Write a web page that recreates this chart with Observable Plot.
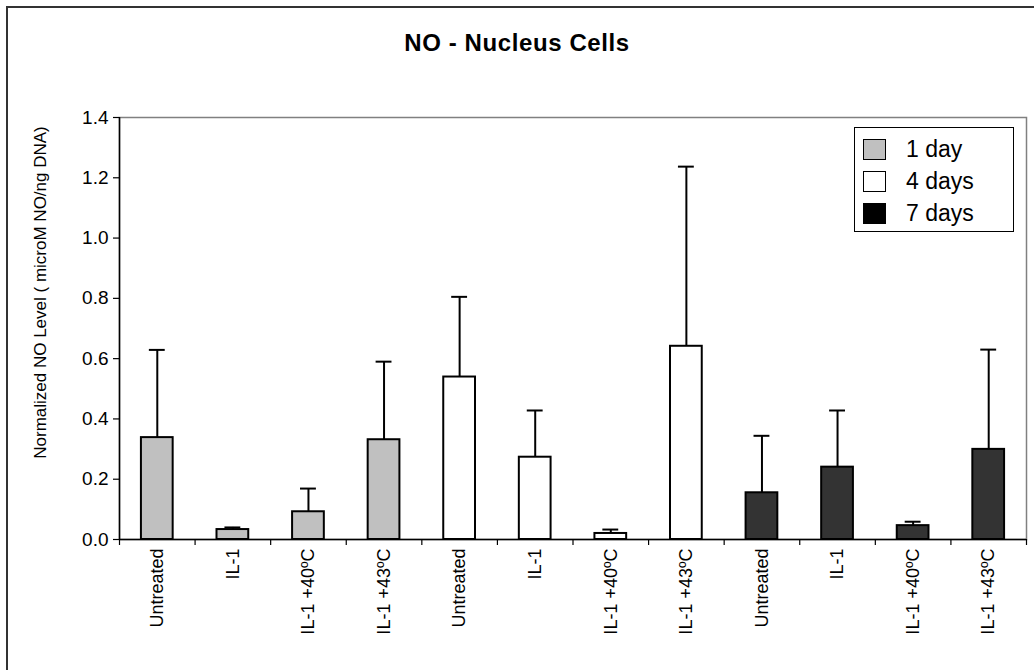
<!DOCTYPE html>
<html>
<head>
<meta charset="utf-8">
<script src="https://cdn.jsdelivr.net/npm/d3@7"></script>
<script src="https://cdn.jsdelivr.net/npm/@observablehq/plot@0.6"></script>
<style>
  html, body { margin: 0; padding: 0; background: #fff; }
  body { font-family: "Liberation Sans", Arial, sans-serif; }
  #wrap { position: relative; width: 1034px; height: 670px; overflow: hidden; background: #fff; }
  #outer { position: absolute; left: 6px; top: 6px; width: 1100px; height: 1000px; border: 2px solid #333; pointer-events: none; }
  #title { height: 86px; display: flex; align-items: center; justify-content: center; font-weight: bold; font-size: 24px; letter-spacing: 0.6px; color: #000; }
  #legend { position: absolute; left: 854px; top: 127px; width: 158px; height: 103px; border: 1.5px solid #000; background: #fff; }
  .row { position: absolute; left: 8px; height: 24px; display: flex; align-items: center; font-size: 23px; color: #000; }
  .sw { width: 23px; height: 21px; border: 1.5px solid #000; margin-right: 20px; box-sizing: border-box; }
  #chart svg { display: block; }
</style>
</head>
<body>
<div id="wrap">
  <div id="title">NO - Nucleus Cells</div>
  <div id="chart"></div>
  <div id="legend"></div>
  <div id="outer"></div>
</div>
<script>
// ---- data ----
const conditions = ["Untreated", "IL-1", "IL-1 +40ºC", "IL-1 +43ºC"];
const groups = ["1 day", "4 days", "7 days"];
const groupColors = ["#c0c0c0", "#ffffff", "#333333"];
const legendColors = ["#c0c0c0", "#ffffff", "#000000"];
const day1Mean = [0.338, 0.033, 0.092, 0.331];
const day1Err  = [0.291, 0.007, 0.077, 0.259];
const day4Mean = [0.539, 0.273, 0.020, 0.641];
const day4Err  = [0.266, 0.155, 0.013, 0.596];
const day7Mean = [0.155, 0.240, 0.046, 0.299];
const day7Err  = [0.189, 0.188, 0.013, 0.331];
const yTicks = [0, 0.2, 0.4, 0.6, 0.8, 1.0, 1.2, 1.4];
const yLabel = "Normalized NO Level ( microM NO/ng DNA)";

const means = [day1Mean, day4Mean, day7Mean];
const errs = [day1Err, day4Err, day7Err];
const rows = groups.flatMap((g, gi) => conditions.map((c, ci) => ({
  group: g, condition: c, pos: gi * conditions.length + ci,
  value: means[gi][ci], err: errs[gi][ci]
})));

const half = 0.21;   // half bar width (category units)
const cap = 0.105;   // half error cap width

const chart = Plot.plot({
  width: 1034,
  height: 584,
  marginTop: 31,
  marginBottom: 131,
  marginLeft: 119,
  marginRight: 8,
  style: {fontFamily: "'Liberation Sans', Arial, sans-serif", fontSize: "18px", color: "#000", background: "transparent", overflow: "visible"},
  x: {domain: [0, rows.length], axis: null},
  y: {domain: [0, 1.4], axis: null},
  color: {domain: groups, range: groupColors},
  marks: [
    Plot.frame({stroke: "#808080", strokeWidth: 1.5}),
    Plot.axisY({ticks: yTicks, tickFormat: d3.format(".1f"), tickSize: 6, tickPadding: 5, label: null, fontSize: 19, stroke: "#000", strokeWidth: 1.2}),
    Plot.axisX({ticks: d3.range(rows.length + 1), tickSize: 6, tickFormat: () => "", label: null, stroke: "#000", strokeWidth: 1.2}),
    Plot.axisX({ticks: rows.map(d => d.pos + 0.5), tickFormat: v => rows[Math.floor(v)].condition, tickSize: 0, tickRotate: -90, tickPadding: 9, label: null, fontSize: 18, letterSpacing: 0.4}),
    Plot.ruleX(rows, {x: d => d.pos + 0.5, y1: "value", y2: d => d.value + d.err, stroke: "#000", strokeWidth: 2}),
    Plot.ruleY(rows, {y: d => d.value + d.err, x1: d => d.pos + 0.5 - cap, x2: d => d.pos + 0.5 + cap, stroke: "#000", strokeWidth: 2}),
    Plot.rect(rows, {x1: d => d.pos + 0.5 - half, x2: d => d.pos + 0.5 + half, y1: 0, y2: "value", fill: "group", stroke: "#000", strokeWidth: 2}),
    Plot.ruleY([0], {stroke: "#000", strokeWidth: 1.5}),
    Plot.ruleX([0], {stroke: "#000", strokeWidth: 1.5}),
    Plot.text([yLabel], {frameAnchor: "left", rotate: -90, dx: -79, dy: -36, fontSize: 17, fill: "#000", textAnchor: "middle"})
  ]
});
document.getElementById("chart").appendChild(chart);

// legend
const legend = document.getElementById("legend");
groups.forEach((g, i) => {
  const row = document.createElement("div");
  row.className = "row";
  row.style.top = (9 + i * 32) + "px";
  const sw = document.createElement("div");
  sw.className = "sw";
  sw.style.background = legendColors[i];
  const t = document.createElement("span");
  t.textContent = g;
  row.appendChild(sw);
  row.appendChild(t);
  legend.appendChild(row);
});
</script>
</body>
</html>
